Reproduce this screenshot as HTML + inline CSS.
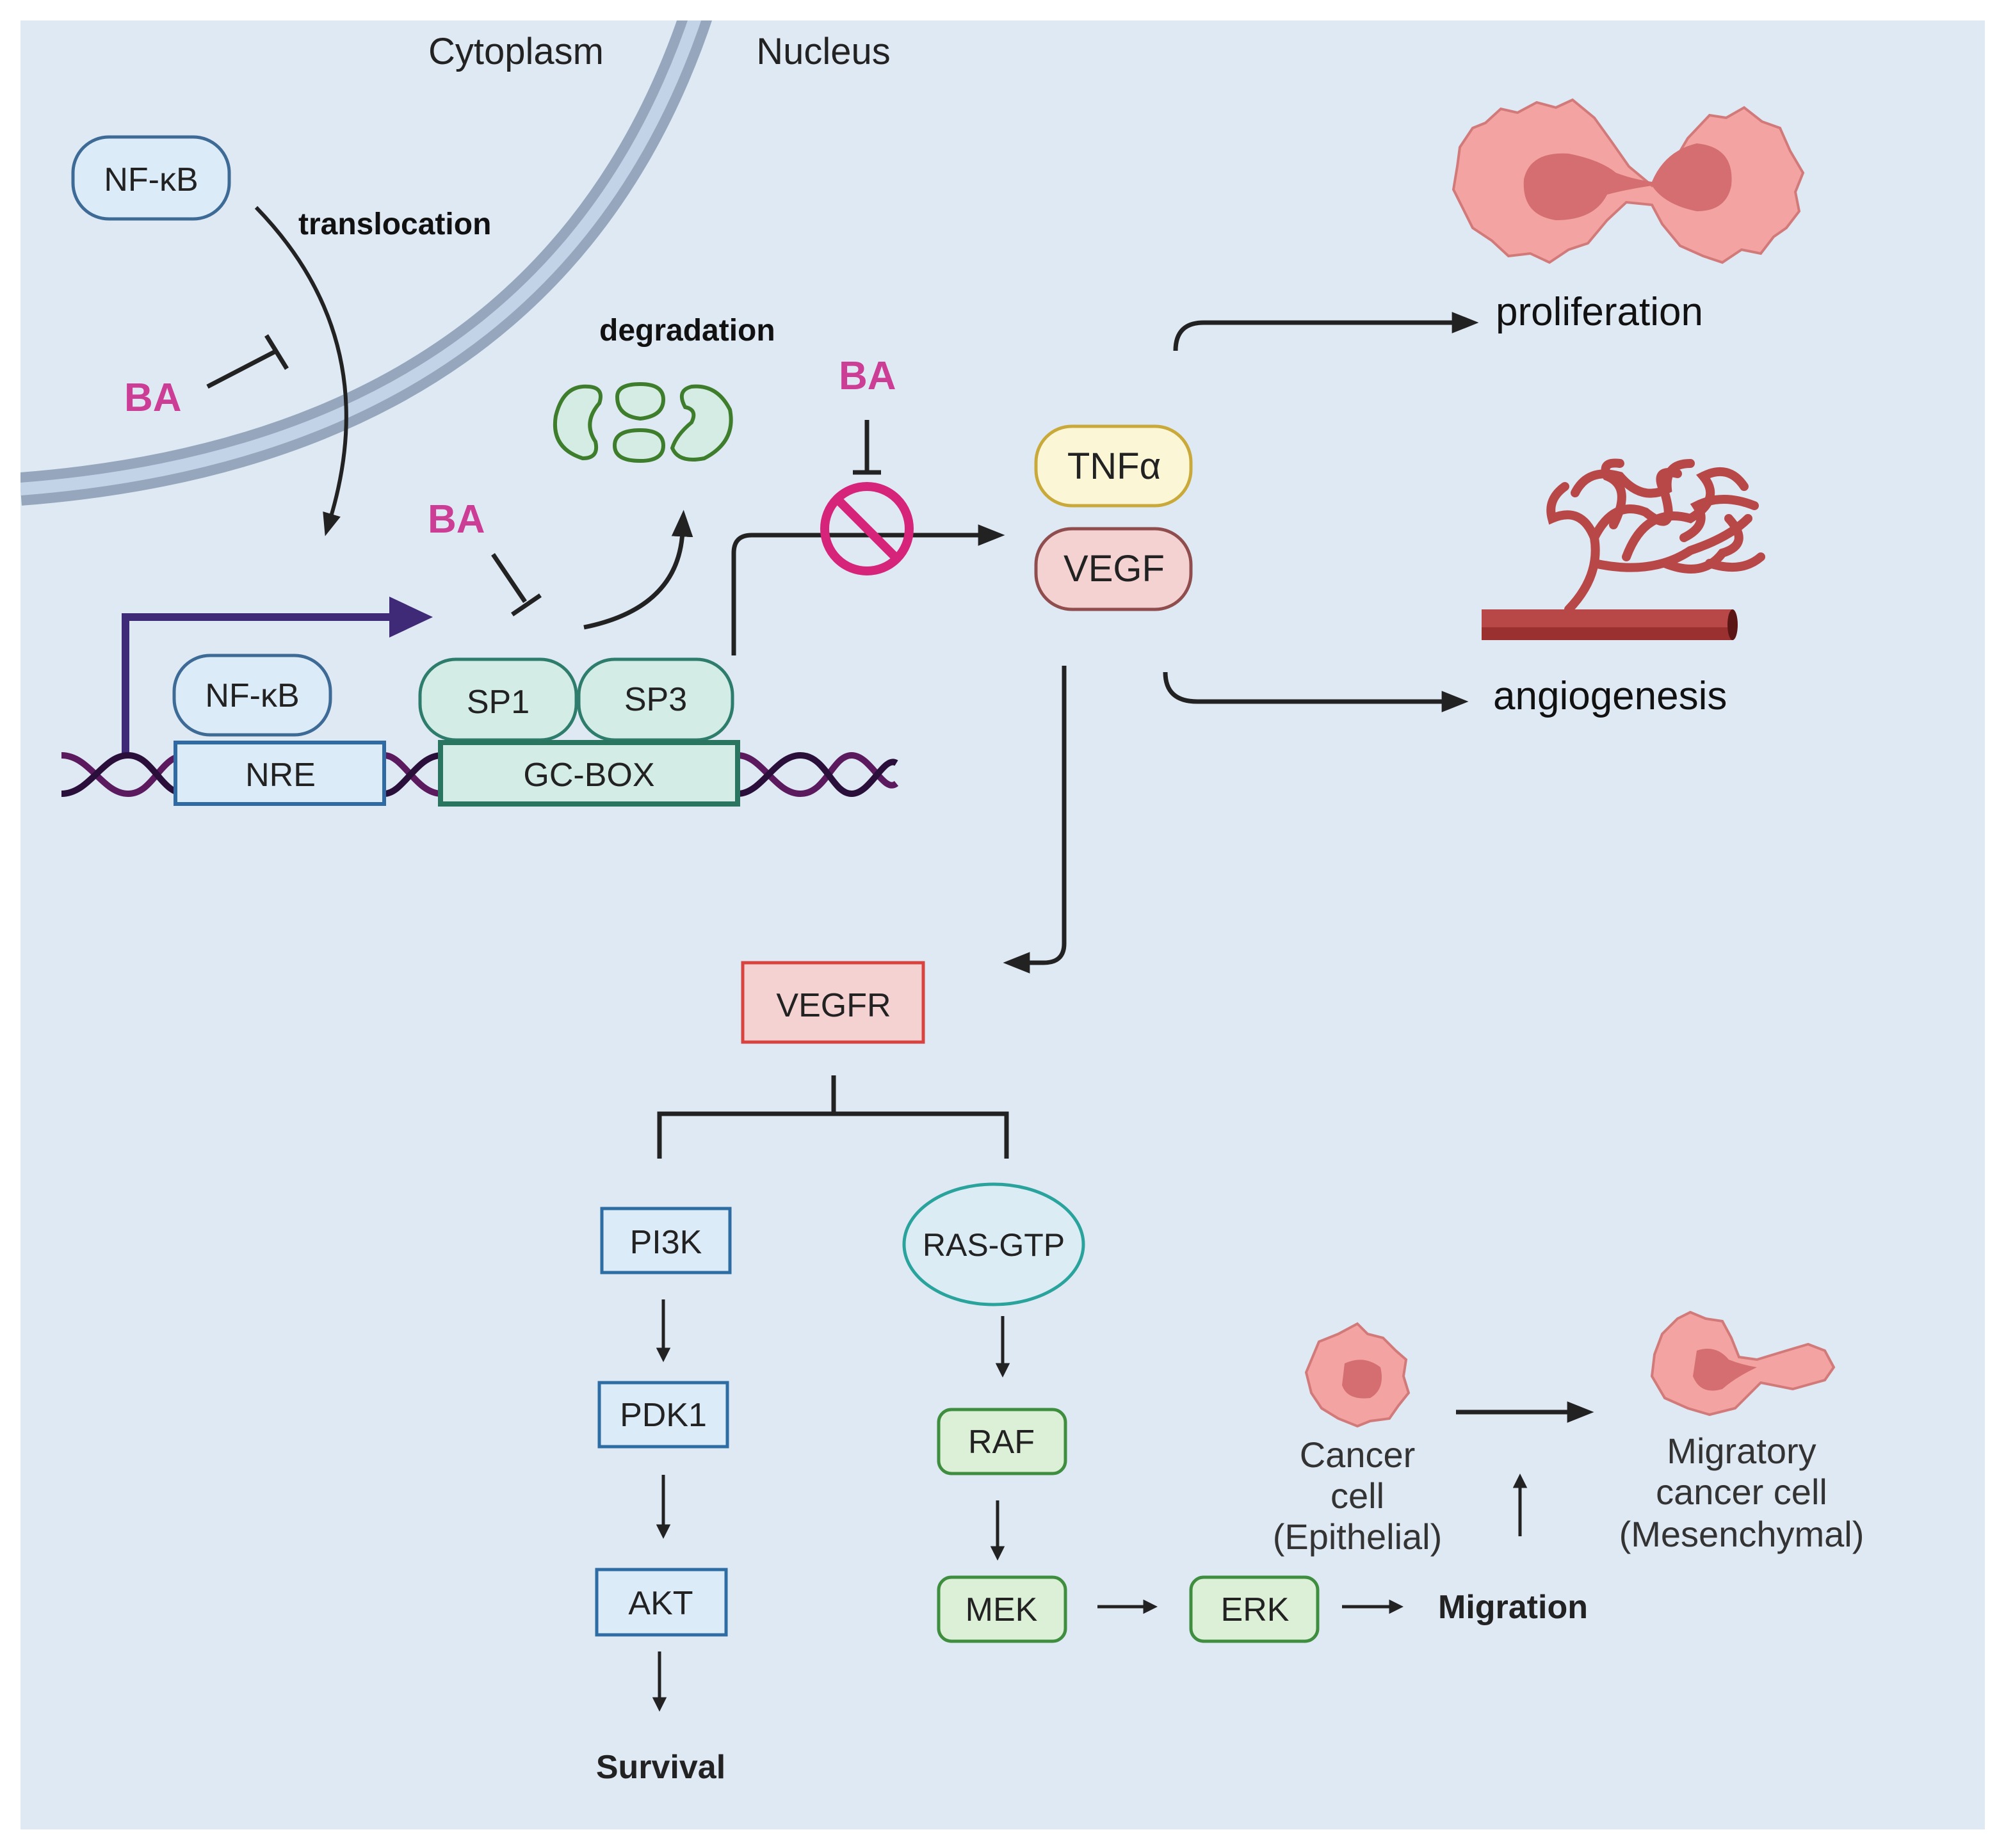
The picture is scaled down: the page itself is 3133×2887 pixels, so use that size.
<!DOCTYPE html>
<html><head><meta charset="utf-8"><style>
html,body{margin:0;padding:0;background:#fff}
svg{display:block}
text{font-family:"Liberation Sans",sans-serif}
</style></head><body>
<svg width="3133" height="2887" viewBox="0 0 1566.5 1443.5" xmlns="http://www.w3.org/2000/svg">
<defs>
<marker id="ah" viewBox="0 0 10 10" refX="2" refY="5" markerWidth="4.5" markerHeight="4.5" orient="auto"><path d="M0 0L10 5L0 10z" fill="#222"/></marker>
<marker id="ahs" viewBox="0 0 10 10" refX="2" refY="5" markerWidth="6" markerHeight="6" orient="auto"><path d="M0 1L10 5L0 9z" fill="#222"/></marker>
</defs>
<rect x="0" y="0" width="1566.5" height="1443.5" fill="#fff"/>
<rect x="16" y="16" width="1534" height="1413" fill="#dfe9f3"/>
<path d="M545 8 Q432 350 16 382" fill="none" stroke="#95a6bd" stroke-width="26"/>
<path d="M545 8 Q432 350 16 382" fill="none" stroke="#c3d3e7" stroke-width="10"/>
<rect x="0" y="0" width="1566.5" height="16" fill="#fff"/>
<rect x="0" y="0" width="16" height="1443.5" fill="#fff"/>
<text x="403" y="50" font-size="29" text-anchor="middle" fill="#222">Cytoplasm</text>
<text x="643" y="50" font-size="29" text-anchor="middle" fill="#222">Nucleus</text>
<rect x="57" y="107" width="122" height="64" rx="28" fill="#dcebf8" stroke="#3e6a96" stroke-width="2.5"/>
<text x="118" y="149" font-size="26" text-anchor="middle" fill="#222">NF-κB</text>
<text x="233" y="183" font-size="24" font-weight="bold" fill="#111">translocation</text>
<path d="M200 162 Q300 265 258 405" fill="none" stroke="#222" stroke-width="3" marker-end="url(#ahs)"/>
<text x="97" y="321" font-size="31" font-weight="bold" fill="#cc3d96">BA</text>
<path d="M162 302 L216 274 M208 262 L224 288" stroke="#222" stroke-width="3.5" fill="none"/>
<text x="468" y="266" font-size="24" font-weight="bold" fill="#111">degradation</text>
<g fill="#d4ece3" stroke="#3d7d2b" stroke-width="3">
<path d="M460 302 Q440 300 434 325 Q430 350 455 358 Q468 358 465 345 Q455 330 468 315 Q472 303 460 302z"/>
<path d="M482 310 Q482 300 500 300 Q518 300 518 312 Q518 325 500 327 Q482 325 482 310z"/>
<path d="M480 348 Q480 336 500 336 Q518 336 518 348 Q518 360 500 360 Q480 360 480 348z"/>
<path d="M540 302 Q560 300 570 320 Q575 345 550 358 Q530 362 525 350 Q528 340 540 330 Q545 320 535 318 Q528 305 540 302z"/>
</g>
<text x="334" y="416" font-size="31" font-weight="bold" fill="#cc3d96">BA</text>
<path d="M385 433 L410 470 M400 480 L422 465" stroke="#222" stroke-width="3.5" fill="none"/>
<path d="M456 490 Q530 475 533 415" fill="none" stroke="#222" stroke-width="3.5" marker-end="url(#ahs)"/>
<text x="655" y="304" font-size="31" font-weight="bold" fill="#cc3d96">BA</text>
<path d="M677 328 V368 M666 369 H688" stroke="#222" stroke-width="3.5" fill="none"/>
<path d="M573 512 V432 Q573 418 587 418 H768" fill="none" stroke="#222" stroke-width="3.5" marker-end="url(#ahs)"/>
<circle cx="677" cy="413" r="33" fill="none" stroke="#d6247b" stroke-width="7"/>
<path d="M654 390 L700 436" stroke="#d6247b" stroke-width="7"/>
<path d="M98 592 V482 H310" fill="none" stroke="#3f2a78" stroke-width="6"/>
<path d="M304 466 L338 482 L304 498z" fill="#3f2a78"/>
<path d="M48 590 C70 590 80 620 100 620 C120 620 125 590 145 590 M300 590 C315 590 325 620 345 620 M576 590 C595 590 605 620 625 620 C645 620 650 590 665 590 C680 590 690 620 700 612" fill="none" stroke="#5b1a5e" stroke-width="5"/>
<path d="M48 620 C70 620 80 590 100 590 C120 590 125 620 145 620 M300 620 C315 620 325 590 345 590 M576 620 C595 620 605 590 625 590 C645 590 650 620 665 620 C680 620 690 590 700 596" fill="none" stroke="#2a0f3a" stroke-width="5"/>
<rect x="136" y="512" width="122" height="62" rx="28" fill="#dcebf8" stroke="#3e6a96" stroke-width="2.5"/>
<text x="197" y="552" font-size="26" text-anchor="middle" fill="#222">NF-κB</text>
<rect x="137" y="580" width="163" height="48" fill="#dcebf8" stroke="#2f6aa4" stroke-width="3"/>
<text x="219" y="614" font-size="26" text-anchor="middle" fill="#222">NRE</text>
<rect x="328" y="515" width="122" height="63" rx="28" fill="#d3ece6" stroke="#2e7d6c" stroke-width="2.5"/>
<text x="389" y="557" font-size="26" text-anchor="middle" fill="#222">SP1</text>
<rect x="452" y="515" width="120" height="63" rx="28" fill="#d3ece6" stroke="#2e7d6c" stroke-width="2.5"/>
<text x="512" y="555" font-size="26" text-anchor="middle" fill="#222">SP3</text>
<rect x="344" y="580" width="232" height="48" fill="#d3ece6" stroke="#2a7560" stroke-width="4"/>
<text x="460" y="614" font-size="26" text-anchor="middle" fill="#222">GC-BOX</text>
<rect x="809" y="333" width="121" height="62" rx="28" fill="#fbf6d6" stroke="#c9a93a" stroke-width="2.5"/>
<text x="870" y="374" font-size="29" text-anchor="middle" fill="#222">TNFα</text>
<rect x="809" y="413" width="121" height="63" rx="28" fill="#f5d2d2" stroke="#8f4d4d" stroke-width="2.5"/>
<text x="870" y="454" font-size="29" text-anchor="middle" fill="#222">VEGF</text>
<path d="M918 274 Q918 252 940 252 H1138" fill="none" stroke="#222" stroke-width="3.5" marker-end="url(#ahs)"/>
<text x="1168" y="254" font-size="31" fill="#111">proliferation</text>
<path d="M910 525 Q910 548 935 548 H1130" fill="none" stroke="#222" stroke-width="3.5" marker-end="url(#ahs)"/>
<text x="1166" y="554" font-size="31" fill="#111">angiogenesis</text>
<path d="M1150 100 L1160 96 1172 85 1185 88 1200 80 1215 84 1228 78 1245 92 1258 110 1272 130 1290 145 1305 130 1318 108 1335 90 1348 92 1362 84 1376 95 1390 100 1398 118 1408 135 1402 150 1405 165 1395 178 1385 185 1375 198 1360 195 1345 205 1330 200 1312 192 1298 175 1290 160 1270 158 1255 172 1240 190 1225 195 1210 205 1195 198 1178 200 1165 188 1150 178 1142 162 1135 148 1138 130 1140 115z" fill="#f4a3a3" stroke="#d27a7a" stroke-width="2"/>
<path d="M1190 140 Q1195 118 1225 120 Q1250 125 1262 135 Q1275 140 1290 142 Q1300 118 1325 112 Q1355 115 1352 145 Q1348 165 1325 165 Q1300 160 1290 145 Q1270 148 1255 152 Q1245 172 1215 172 Q1188 168 1190 140z" fill="#d46e70"/>
<g fill="none" stroke="#b84848" stroke-width="7" stroke-linecap="round">
<path d="M1225 476 Q1250 450 1245 420 Q1235 395 1212 405 Q1208 390 1222 380"/>
<path d="M1245 440 Q1290 450 1320 430 Q1350 420 1365 405"/>
<path d="M1245 420 Q1260 390 1285 400 Q1310 420 1300 385 Q1290 365 1310 370"/>
<path d="M1270 435 Q1285 395 1320 405 Q1345 390 1330 372 Q1350 362 1362 380"/>
<path d="M1230 385 Q1240 365 1265 372 Q1282 392 1302 382 Q1300 362 1320 362"/>
<path d="M1300 440 Q1330 452 1345 432 Q1368 425 1350 405"/>
<path d="M1260 410 Q1275 380 1255 372 Q1250 360 1265 362"/>
<path d="M1315 420 Q1335 410 1325 395 Q1345 385 1370 395"/>
<path d="M1335 440 Q1360 448 1375 435"/>
</g>
<rect x="1157" y="476" width="196" height="24" fill="#b84848"/>
<rect x="1157" y="490" width="196" height="10" fill="#9a3030"/>
<ellipse cx="1353" cy="488" rx="4" ry="12" fill="#5a1515"/>
<path d="M831 520 V737 Q831 752 815 752 H800" fill="none" stroke="#222" stroke-width="3.5" marker-end="url(#ahs)"/>
<rect x="580" y="752" width="141" height="62" fill="#f5d2d2" stroke="#d9433f" stroke-width="2.5"/>
<text x="651" y="794" font-size="26" text-anchor="middle" fill="#222">VEGFR</text>
<path d="M651 840 V870 M515 905 V870 H786 V905" fill="none" stroke="#222" stroke-width="3.5"/>
<g fill="#dcebf8" stroke="#2e6ca4" stroke-width="2.5">
<rect x="470" y="944" width="100" height="50"/>
<rect x="468" y="1080" width="100" height="50"/>
<rect x="466" y="1226" width="101" height="51"/>
</g>
<text x="520" y="979" font-size="26" text-anchor="middle" fill="#222">PI3K</text>
<text x="518" y="1114" font-size="26" text-anchor="middle" fill="#222">PDK1</text>
<text x="516" y="1261" font-size="26" text-anchor="middle" fill="#222">AKT</text>
<g stroke="#222" stroke-width="2.5" fill="none">
<path d="M518 1015 V1055" marker-end="url(#ah)"/>
<path d="M518 1152 V1193" marker-end="url(#ah)"/>
<path d="M515 1290 V1328" marker-end="url(#ah)"/>
<path d="M783 1028 V1067" marker-end="url(#ah)"/>
<path d="M779 1172 V1210" marker-end="url(#ah)"/>
<path d="M857 1255 H895" marker-end="url(#ah)"/>
<path d="M1048 1255 H1087" marker-end="url(#ah)"/>
<path d="M1187 1200 V1160" marker-end="url(#ah)"/>
</g>
<path d="M1137 1103 H1228" stroke="#222" stroke-width="3.5" marker-end="url(#ahs)"/>
<text x="516" y="1389" font-size="26" font-weight="bold" text-anchor="middle" fill="#222">Survival</text>
<ellipse cx="776" cy="972" rx="70" ry="47" fill="#dcecf4" stroke="#2aa39c" stroke-width="2.5"/>
<text x="776" y="981" font-size="25" text-anchor="middle" fill="#222">RAS-GTP</text>
<g fill="#dcefd7" stroke="#3f8e3f" stroke-width="2.5">
<rect x="733" y="1101" width="99" height="50" rx="10"/>
<rect x="733" y="1232" width="99" height="50" rx="10"/>
<rect x="930" y="1232" width="99" height="50" rx="10"/>
</g>
<text x="782" y="1135" font-size="26" text-anchor="middle" fill="#222">RAF</text>
<text x="782" y="1266" font-size="26" text-anchor="middle" fill="#222">MEK</text>
<text x="980" y="1266" font-size="26" text-anchor="middle" fill="#222">ERK</text>
<text x="1123" y="1264" font-size="26" font-weight="bold" fill="#222">Migration</text>
<path d="M1060 1034 L1068 1042 1080 1045 1090 1055 1098 1062 1096 1075 1100 1088 1092 1098 1085 1108 1070 1110 1060 1114 1045 1108 1032 1100 1024 1088 1020 1072 1025 1060 1030 1048 1045 1042z" fill="#f4a3a3" stroke="#d27a7a" stroke-width="2"/>
<path d="M1050 1065 Q1065 1058 1078 1068 Q1082 1085 1070 1092 Q1052 1094 1048 1082z" fill="#d46e70"/>
<text x="1060" y="1146" font-size="28" text-anchor="middle" fill="#333">Cancer</text>
<text x="1060" y="1178" font-size="28" text-anchor="middle" fill="#333">cell</text>
<text x="1060" y="1210" font-size="28" text-anchor="middle" fill="#333">(Epithelial)</text>
<path d="M1320 1025 L1332 1030 1345 1032 1352 1045 1358 1060 1372 1062 1395 1055 1412 1050 1425 1055 1432 1068 1425 1078 1400 1085 1375 1080 1355 1100 1335 1105 1318 1100 1300 1092 1290 1075 1292 1058 1298 1042 1310 1030z" fill="#f4a3a3" stroke="#d27a7a" stroke-width="2"/>
<path d="M1325 1055 Q1340 1050 1350 1062 Q1360 1066 1372 1068 Q1355 1076 1345 1085 Q1328 1090 1322 1075z" fill="#d46e70"/>
<text x="1360" y="1143" font-size="28" text-anchor="middle" fill="#333">Migratory</text>
<text x="1360" y="1175" font-size="28" text-anchor="middle" fill="#333">cancer cell</text>
<text x="1360" y="1208" font-size="28" text-anchor="middle" fill="#333">(Mesenchymal)</text>
</svg>
</body></html>
